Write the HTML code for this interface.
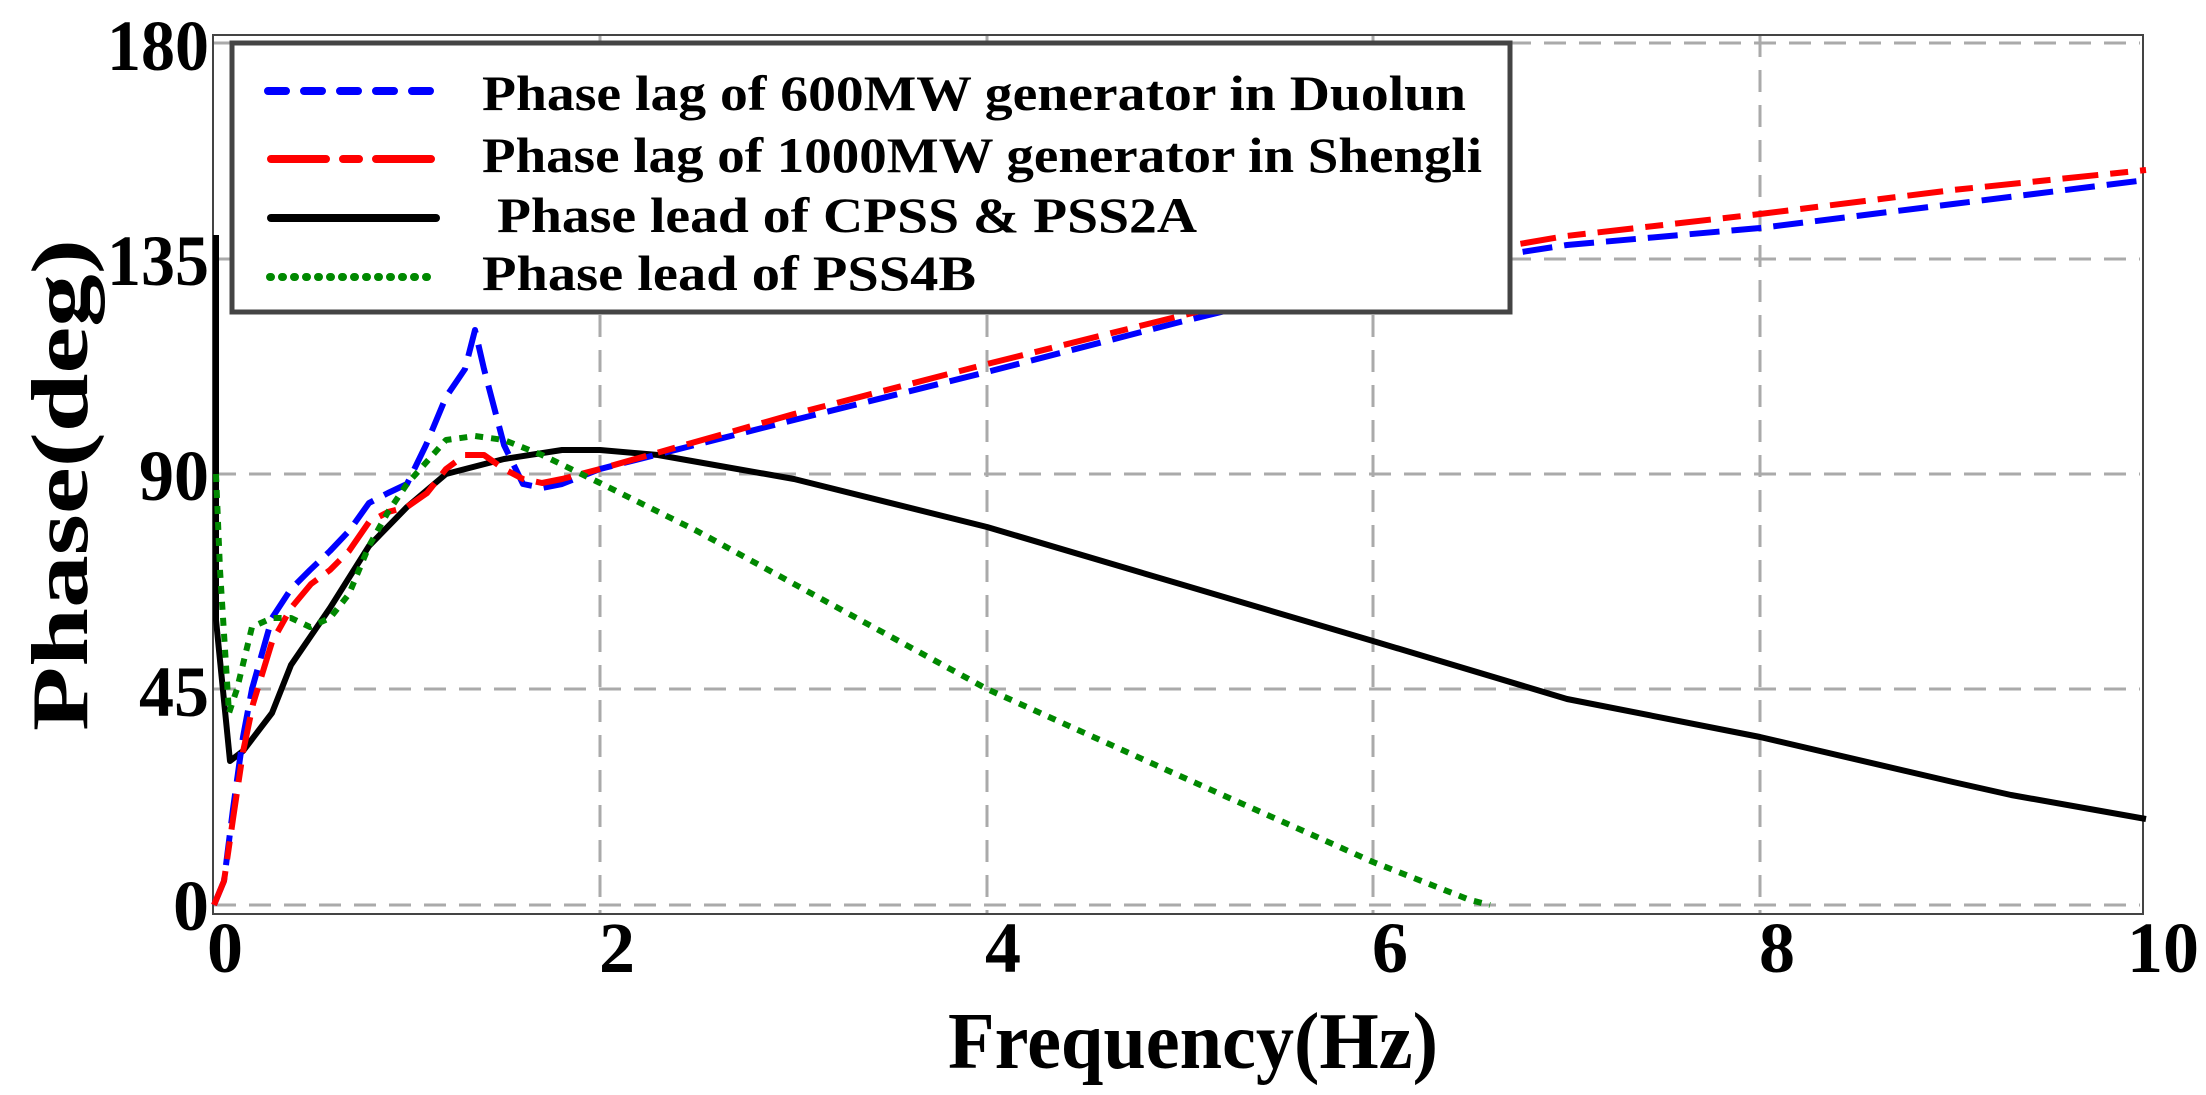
<!DOCTYPE html>
<html><head><meta charset="utf-8"><style>
html,body{margin:0;padding:0;background:#fff;}
svg{display:block;}
text{font-family:"Liberation Serif",serif;font-weight:bold;fill:#000;}
</style></head><body>
<svg width="2206" height="1095" viewBox="0 0 2206 1095" xmlns="http://www.w3.org/2000/svg">
<rect x="0" y="0" width="2206" height="1095" fill="#fff"/>
<g stroke="#aaa" stroke-width="3" stroke-dasharray="22,13" fill="none">
<line x1="214" y1="905" x2="2140" y2="905"/>
<line x1="214" y1="689" x2="2140" y2="689"/>
<line x1="214" y1="474" x2="2140" y2="474"/>
<line x1="214" y1="259" x2="2140" y2="259"/>
<line x1="214" y1="43" x2="2140" y2="43"/>
<line x1="600" y1="35" x2="600" y2="914"/>
<line x1="987" y1="35" x2="987" y2="914"/>
<line x1="1373" y1="35" x2="1373" y2="914"/>
<line x1="1760" y1="35" x2="1760" y2="914"/>
</g>
<rect x="213" y="35" width="1930" height="879" fill="none" stroke="#444" stroke-width="2"/>
<g fill="none" stroke-width="6" stroke-linejoin="round">
<polyline stroke="#000" points="216,235 216,620 230,761 243,751 272,713 291,665 330,608 369,546 407,507 446,474 504,459 562,450 600,450 658,455 794,479 987,527 1180,584 1373,641 1567,699 1760,737 1953,782 2011,795 2146,819"/>
<polyline stroke="#00f" stroke-dasharray="30,12" points="214,905 224,881 233,809 243,737 252,689 272,618 291,589 310,570 330,551 349,531 369,503 388,493 407,484 426,445 446,397 465,369 475,330 484,369 504,445 523,484 542,488 562,484 600,469 794,420 987,372 1180,322 1373,275 1567,245 1760,228 1953,204 2146,180"/>
<polyline stroke="#f00" stroke-dasharray="36,12,18,12" points="214,905 224,881 233,819 243,752 253,704 272,642 291,608 311,584 330,570 349,551 369,522 388,512 407,507 427,493 446,469 465,455 484,455 504,469 523,479 542,483 562,479 600,469 794,414 987,364 1180,316 1373,269 1566,236 1760,214 1953,190 2146,170"/>
<polyline stroke="#080" stroke-dasharray="8,8" points="216,474 220,570 229,713 237,689 252,627 272,618 291,618 310,627 330,618 349,594 369,546 388,512 407,484 446,440 475,436 504,440 542,455 600,483 697,531 794,584 987,689 1180,776 1373,862 1470,900 1490,905"/>
</g>
<rect x="232" y="43" width="1278" height="269" fill="#fff" stroke="#444" stroke-width="5"/>
<g stroke-width="8" stroke-linecap="round" fill="none">
<line x1="268" y1="91" x2="434" y2="91" stroke="#00f" stroke-dasharray="18,18"/>
<line x1="271" y1="159" x2="436" y2="159" stroke="#f00" stroke-dasharray="55,17,16,17"/>
<line x1="271" y1="218" x2="436" y2="218" stroke="#000"/>
<line x1="270" y1="277" x2="434" y2="277" stroke="#080" stroke-dasharray="1,11"/>
</g>
<g font-size="50">
<text x="482" y="110" textLength="984" lengthAdjust="spacingAndGlyphs">Phase lag of 600MW generator in Duolun</text>
<text x="482" y="172" textLength="1000" lengthAdjust="spacingAndGlyphs">Phase lag of 1000MW generator in Shengli</text>
<text x="497" y="232" textLength="700" lengthAdjust="spacingAndGlyphs">Phase lead of CPSS &amp; PSS2A</text>
<text x="482" y="290" textLength="494" lengthAdjust="spacingAndGlyphs">Phase lead of PSS4B</text>
</g>
<g font-size="72" text-anchor="end">
<text x="209" y="70" textLength="102" lengthAdjust="spacingAndGlyphs">180</text>
<text x="209" y="285" textLength="102" lengthAdjust="spacingAndGlyphs">135</text>
<text x="209" y="500" textLength="70" lengthAdjust="spacingAndGlyphs">90</text>
<text x="209" y="716" textLength="70" lengthAdjust="spacingAndGlyphs">45</text>
<text x="209" y="930">0</text>
</g>
<g font-size="72" text-anchor="middle">
<text x="225" y="972">0</text>
<text x="617" y="972">2</text>
<text x="1003" y="972">4</text>
<text x="1390" y="972">6</text>
<text x="1777" y="972">8</text>
<text x="2163" y="972">10</text>
</g>
<text x="1193" y="1068" font-size="80" text-anchor="middle" textLength="490" lengthAdjust="spacingAndGlyphs">Frequency(Hz)</text>
<text transform="translate(87,485) rotate(-90)" font-size="80" text-anchor="middle" textLength="492" lengthAdjust="spacingAndGlyphs">Phase(deg)</text>
</svg>
</body></html>
